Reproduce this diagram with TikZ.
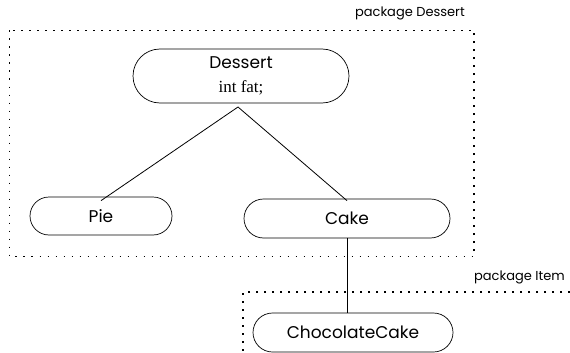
\documentclass[tikz,border=0pt]{standalone}
\usepackage{fontspec}
\setmainfont{Poppins}
\newfontfamily\serifface{Liberation Serif}
\begin{document}
\begin{tikzpicture}[x=1pt,y=-1pt,
  cls/.style={draw, line width=0.7pt, rounded corners=#1, inner sep=0pt},
  pkg/.style={line width=1.7pt, dash pattern=on 1.7pt off 6.3pt},
  conn/.style={line width=0.8pt},
  lbl/.style={font=\fontsize{13}{15}\selectfont, inner sep=0pt, anchor=east}]
\useasboundingbox (0,0) rectangle (570,353);
% package boxes
\draw[pkg] (9.5,30.5) rectangle (474,256.5);
\draw[pkg] (570,292) -- (243,292) -- (243,353);
\node[lbl] (lblD) at (465,13) {package Dessert};
\node[lbl] (lblI) at (565,277) {package Item};
% classes
\node[cls=27pt, minimum width=216pt, minimum height=54pt, align=center,
  font=\fontsize{17}{24}\selectfont] (dessert) at (241,76)
  {Dessert\\{\serifface int fat;}};
\node[cls=19pt, minimum width=142pt, minimum height=38pt,
  font=\fontsize{17}{20}\selectfont] (pie) at (101,216) {Pie};
\node[cls=19.5pt, minimum width=206pt, minimum height=39pt,
  font=\fontsize{17}{20}\selectfont] (cake) at (347,218.5) {Cake};
\node[cls=19.5pt, minimum width=200pt, minimum height=39pt,
  font=\fontsize{17}{20}\selectfont] (choc) at (353,332.5) {ChocolateCake};
% connectors
\coordinate (apex) at (238,107);
\draw[conn] ([yshift=-4pt]pie.north) -- (apex) -- ([yshift=-2pt]cake.north);
\draw[conn] (cake.south) -- (cake.south |- choc.north);
\end{tikzpicture}
\end{document}
